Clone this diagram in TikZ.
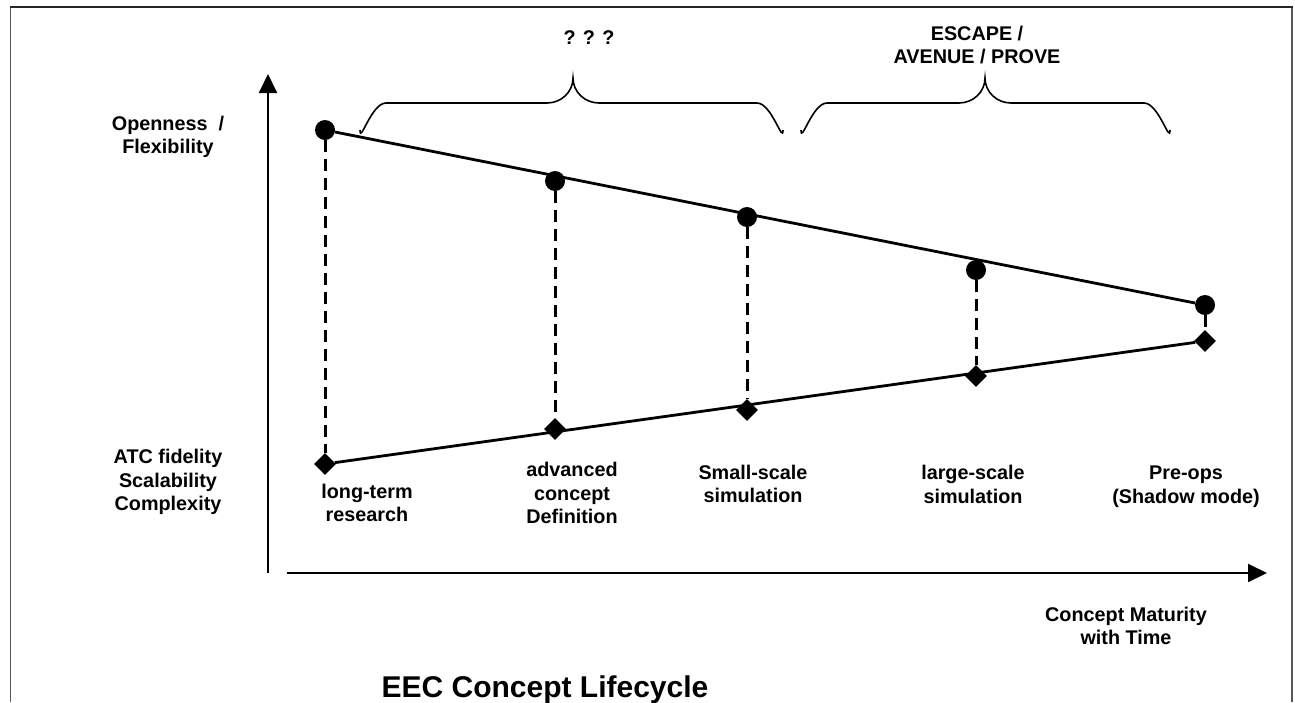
\documentclass[tikz,border=0pt]{standalone}
\usepackage{fontspec}
\setmainfont{Liberation Sans}
\usetikzlibrary{shapes.geometric,arrows.meta}
\begin{document}
\begin{tikzpicture}[x=1pt,y=-1pt,
  lbl/.style={font=\fontsize{19.8}{23.5}\selectfont\bfseries, align=center, inner sep=0pt},
  titletext/.style={font=\fontsize{30}{35}\selectfont\bfseries, inner sep=0pt},
  dot/.style={circle, fill=black, inner sep=0pt, minimum size=20pt},
  gem/.style={diamond, fill=black, inner sep=0pt, minimum width=22pt, minimum height=22pt},
  axis/.style={line width=2pt, -{Triangle[length=19pt,width=18pt]}},
  trend/.style={line width=2.8pt},
  drop/.style={line width=3pt, dash pattern=on 12pt off 7pt},
  bracepath/.style={line width=1.6pt},
  sideframe/.style={line width=1.5pt, black!65},
  topframe/.style={line width=2pt, black!85}]

\useasboundingbox (0,0) rectangle (1295,702);

% page frame
\draw[sideframe] (10.5,702) -- (10.5,7);
\draw[sideframe] (1292,702) -- (1292,7);
\draw[topframe] (10,7) -- (1293,7);

% axes
\coordinate (yorig) at (268,573);
\coordinate (ytip) at (268,74);
\coordinate (xorig) at (287,573);
\coordinate (xtip) at (1267,573);
\draw[axis] (yorig) -- (ytip);
\draw[axis] (xorig) -- (xtip);

% openness markers (upper) and fidelity markers (lower)
\node[dot] (c1) at (325,130) {};
\node[dot] (c2) at (555,181) {};
\node[dot] (c3) at (747,217) {};
\node[dot] (c4) at (976,270) {};
\node[dot] (c5) at (1205,305) {};
\node[gem] (d1) at (325,464) {};
\node[gem] (d2) at (555,429) {};
\node[gem] (d3) at (747,410) {};
\node[gem] (d4) at (976,376) {};
\node[gem] (d5) at (1205,341) {};

\draw[trend] (c1) -- (c5);
\draw[trend] (d1) -- (d5);
\foreach \i in {1,...,5} {\draw[drop] (c\i) -- (d\i);}

% braces over the phases
\draw[bracepath] (360,130) to[out=-90,in=180] (386,103) -- (547,103)
  to[out=0,in=-90] (573,78) to[out=-90,in=180] (599,103) -- (757,103)
  to[out=0,in=-90] (783,130);
\draw[bracepath] (801,130) to[out=-90,in=180] (827,103) -- (959,103)
  to[out=0,in=-90] (985,78) to[out=-90,in=180] (1011,103) -- (1144,103)
  to[out=0,in=-90] (1170,130);

% labels
\node[lbl] (qq) at (589,38) {? ? ?};
\node[lbl] (esc) at (977,45) {ESCAPE /\\AVENUE / PROVE};
\node[lbl] (open) at (168,137) {Openness~~/\\Flexibility};
\node[lbl] (atc) at (168,482) {ATC fidelity\\Scalability\\Complexity};
\node[lbl] (p1) at (367,503) {long-term\\research};
\node[lbl] (p2) at (572,493) {advanced\\concept\\Definition};
\node[lbl] (p3) at (753,484) {Small-scale\\simulation};
\node[lbl] (p4) at (973,484.5) {large-scale\\simulation};
\node[lbl] (p5) at (1186,486.5) {Pre-ops\\(Shadow mode)};
\node[lbl] (mat) at (1126,626) {Concept Maturity\\with Time};
\node[titletext] (title) at (545,690) {EEC Concept Lifecycle};
\end{tikzpicture}
\end{document}
